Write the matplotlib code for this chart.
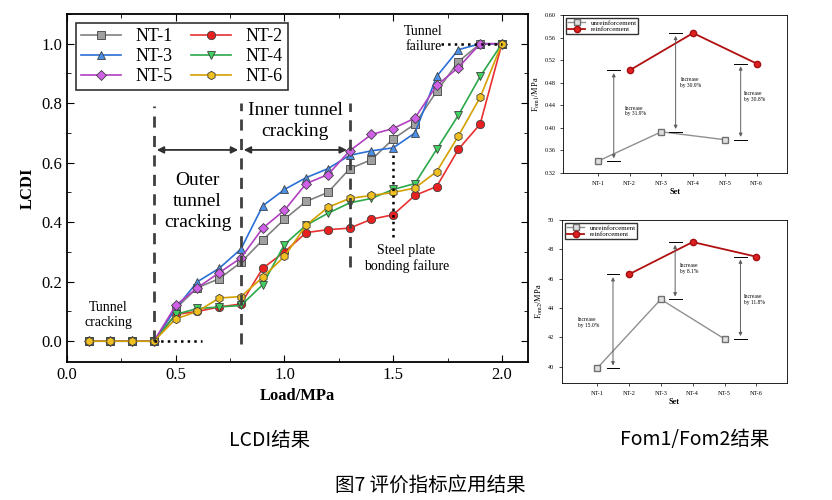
import numpy as np
import matplotlib.pyplot as plt
from matplotlib.ticker import MultipleLocator

plt.rcParams['font.family'] = ['Liberation Serif', 'DejaVu Serif']
plt.rcParams['mathtext.fontset'] = 'stix'

load = [0.1, 0.2, 0.3, 0.4, 0.5, 0.6, 0.7, 0.8, 0.9, 1.0, 1.1, 1.2, 1.3, 1.4, 1.5, 1.6, 1.7, 1.8, 1.9, 2.0]
z = [0, 0, 0, 0]
nt1 = z + [0.11, 0.18, 0.21, 0.265, 0.34, 0.41, 0.47, 0.50, 0.58, 0.61, 0.68, 0.73, 0.84, 0.94, 1.0, 1.0]
nt2 = z + [0.09, 0.10, 0.115, 0.125, 0.245, 0.30, 0.365, 0.375, 0.38, 0.41, 0.425, 0.49, 0.52, 0.645, 0.73, 1.0]
nt3 = z + [0.11, 0.20, 0.245, 0.31, 0.455, 0.51, 0.55, 0.58, 0.625, 0.64, 0.65, 0.70, 0.89, 0.98, 1.0, 1.0]
nt4 = z + [0.09, 0.11, 0.115, 0.12, 0.19, 0.325, 0.39, 0.43, 0.465, 0.48, 0.51, 0.53, 0.645, 0.76, 0.89, 1.0]
nt5 = z + [0.12, 0.18, 0.23, 0.28, 0.38, 0.44, 0.53, 0.56, 0.64, 0.695, 0.715, 0.75, 0.86, 0.92, 1.0, 1.0]
nt6 = z + [0.075, 0.10, 0.145, 0.15, 0.215, 0.285, 0.39, 0.45, 0.48, 0.49, 0.50, 0.515, 0.57, 0.69, 0.82, 1.0]

sets = ['NT-1', 'NT-2', 'NT-3', 'NT-4', 'NT-5', 'NT-6']
fom1_unre = [0.341, 0.393, 0.379]
fom1_re = [0.502, 0.568, 0.514]
fom1_inc = ['31.9%', '30.9%', '30.8%']
fom2_unre = [39.9, 44.6, 41.9]
fom2_re = [46.3, 48.5, 47.5]
fom2_inc = ['15.0%', '8.1%', '11.8%']

fig = plt.figure(figsize=(8.32, 5), dpi=100)

def px(l, t, r, b):
    return [l / 832, 1 - b / 500, (r - l) / 832, (b - t) / 500]

# main LCDI chart
ax = fig.add_axes(px(67, 14, 528, 362))
series = [(nt1, 'NT-1', 's', '#808080', '#a0a0a0'), (nt2, 'NT-2', 'o', '#e83030', '#e82020'),
          (nt3, 'NT-3', '^', '#2a6fd6', '#4a90e8'), (nt4, 'NT-4', 'v', '#2aa84a', '#40d060'),
          (nt5, 'NT-5', 'D', '#b040c0', '#d060e8'), (nt6, 'NT-6', 'h', '#d4a000', '#f0c020')]
lines = []
for y, lab, m, lc, fc in series:
    l, = ax.plot(load, y, color=lc, marker=m, ms=6 if m != 'D' else 5, mfc=fc, mec='#404040',
                 mew=0.6, lw=1.2, label=lab)
    lines.append(l)
ax.set_xlim(0, 2.12)
ax.set_ylim(-0.07, 1.1)
ax.xaxis.set_major_locator(MultipleLocator(0.5))
ax.xaxis.set_minor_locator(MultipleLocator(0.25))
ax.yaxis.set_major_locator(MultipleLocator(0.2))
ax.yaxis.set_minor_locator(MultipleLocator(0.1))
ax.tick_params(which='both', direction='in', top=True, right=True, labelsize=12)
ax.tick_params(which='major', length=5)
ax.tick_params(which='minor', length=3)
ax.set_xlabel('Load/MPa', fontsize=12, fontweight='bold')
ax.set_ylabel('LCDI', fontsize=12, fontweight='bold')
for s in ax.spines.values():
    s.set_linewidth(1.3)
order = [0, 2, 4, 1, 3, 5]
leg = ax.legend([lines[i] for i in order], [series[i][1] for i in order], ncol=2, loc='upper left',
                fontsize=13, frameon=True, fancybox=False, edgecolor='black',
                handlelength=2.2, columnspacing=1.0, labelspacing=0.15, borderpad=0.3)
leg.get_frame().set_linewidth(1.2)

dash = dict(color='#404040', lw=2, ls=(0, (4, 3)))
ax.plot([0.4, 0.4], [0, 0.79], **dash)
ax.plot([0.8, 0.8], [-0.01, 0.80], **dash)
ax.plot([1.3, 1.3], [0.25, 0.80], **dash)
for a, b in [(0.4, 0.8), (0.8, 1.3)]:
    ax.annotate('', xy=(a, 0.643), xytext=(b, 0.643),
                arrowprops=dict(arrowstyle='<|-|>', color='#303030', lw=1.3, mutation_scale=10))
ax.text(0.6, 0.47, 'Outer\ntunnel\ncracking', ha='center', va='center', fontsize=14, linespacing=1.3)
ax.text(1.05, 0.74, 'Inner tunnel\ncracking', ha='center', va='center', fontsize=14, linespacing=1.3)
dot = dict(color='black', lw=1.8, ls=':')
ax.plot([0.4, 0.62], [0, 0], **dot)
ax.plot([1.72, 2.0], [1.0, 1.0], **dot)
ax.plot([1.5, 1.5], [0.35, 0.64], **dot)
ax.text(1.56, 0.23, 'Steel plate\nbonding failure', ha='center', va='bottom', fontsize=10)
ax.text(0.19, 0.04, 'Tunnel\ncracking', ha='center', va='bottom', fontsize=10)
ax.text(1.64, 1.015, 'Tunnel\nfailure', ha='center', va='center', fontsize=10)

# Fom panels
def fom_panel(rect, unre, re, inc, ylim, yticks, ylabel):
    a = fig.add_axes(rect)
    xu = [0, 2, 4]
    xr = [1, 3, 5]
    a.plot(xu, unre, color='#909090', marker='s', ms=4, mfc='#e0e0e0', mec='#707070', lw=1, label='unreinforcement')
    a.plot(xr, re, color='#b01010', marker='o', ms=4.5, mfc='#e02020', mec='#a01010', lw=1.3, label='reinforcement')
    ax_pos = [0.5, 2.45, 4.5]
    for i in range(3):
        lo, hi = unre[i], re[i]
        x0 = ax_pos[i]
        a.annotate('', xy=(x0, hi), xytext=(x0, lo),
                   arrowprops=dict(arrowstyle='<|-|>', color='#606060', lw=0.7, mutation_scale=5))
        a.plot([x0 - 0.2, x0 + 0.2], [hi, hi], color='black', lw=0.7)
        a.plot([x0 - 0.2, x0 + 0.2], [lo, lo], color='black', lw=0.7)
    a.set_xlim(-1.1, 5.96)
    a.set_ylim(*ylim)
    a.set_yticks(yticks)
    a.set_xticks(range(6))
    a.set_xticklabels(sets)
    a.tick_params(labelsize=4.5, direction='out', length=2, width=0.5)
    a.set_xlabel('Set', fontsize=6, fontweight='bold', labelpad=2)
    a.set_ylabel(ylabel, fontsize=6, labelpad=2)
    for s in a.spines.values():
        s.set_linewidth(0.6)
    a.legend(loc='upper left', fontsize=5, frameon=True, fancybox=False, edgecolor='black',
             borderpad=0.2, labelspacing=0.1, handlelength=2.5)
    return a

a1 = fom_panel(px(563, 15, 787, 173), fom1_unre, fom1_re, fom1_inc, (0.32, 0.60),
               [0.32, 0.36, 0.40, 0.44, 0.48, 0.52, 0.56, 0.60], r'F$_{\rm om1}$/MPa')
a1.set_yticklabels(['%.2f' % v for v in a1.get_yticks()])
a1.text(0.85, 0.43, 'Increase\nby ' + fom1_inc[0], fontsize=4, ha='left', va='center')
a1.text(2.6, 0.48, 'Increase\nby ' + fom1_inc[1], fontsize=4, ha='left', va='center')
a1.text(4.6, 0.455, 'Increase\nby ' + fom1_inc[2], fontsize=4, ha='left', va='center')

a2 = fom_panel(px(562, 220, 787, 383), fom2_unre, fom2_re, fom2_inc, (38.9, 50),
               [40, 42, 44, 46, 48, 50], r'F$_{\rm om2}$/MPa')
a2.text(-0.6, 43.0, 'Increase\nby ' + fom2_inc[0], fontsize=4, ha='left', va='center')
a2.text(2.6, 46.7, 'Increase\nby ' + fom2_inc[1], fontsize=4, ha='left', va='center')
a2.text(4.6, 44.6, 'Increase\nby ' + fom2_inc[2], fontsize=4, ha='left', va='center')

cjk = ['Noto Sans CJK SC', 'DejaVu Sans']
fig.text(270 / 832, 1 - 440 / 500, 'LCDI结果', ha='center', va='center', fontsize=14, family=cjk)
fig.text(695 / 832, 1 - 440 / 500, 'Fom1/Fom2结果', ha='center', va='center', fontsize=14, family=cjk)
fig.text(430 / 832, 1 - 485 / 500, '图7 评价指标应用结果', ha='center', va='center', fontsize=14, family=cjk)

fig.savefig('out.png', dpi=100)
